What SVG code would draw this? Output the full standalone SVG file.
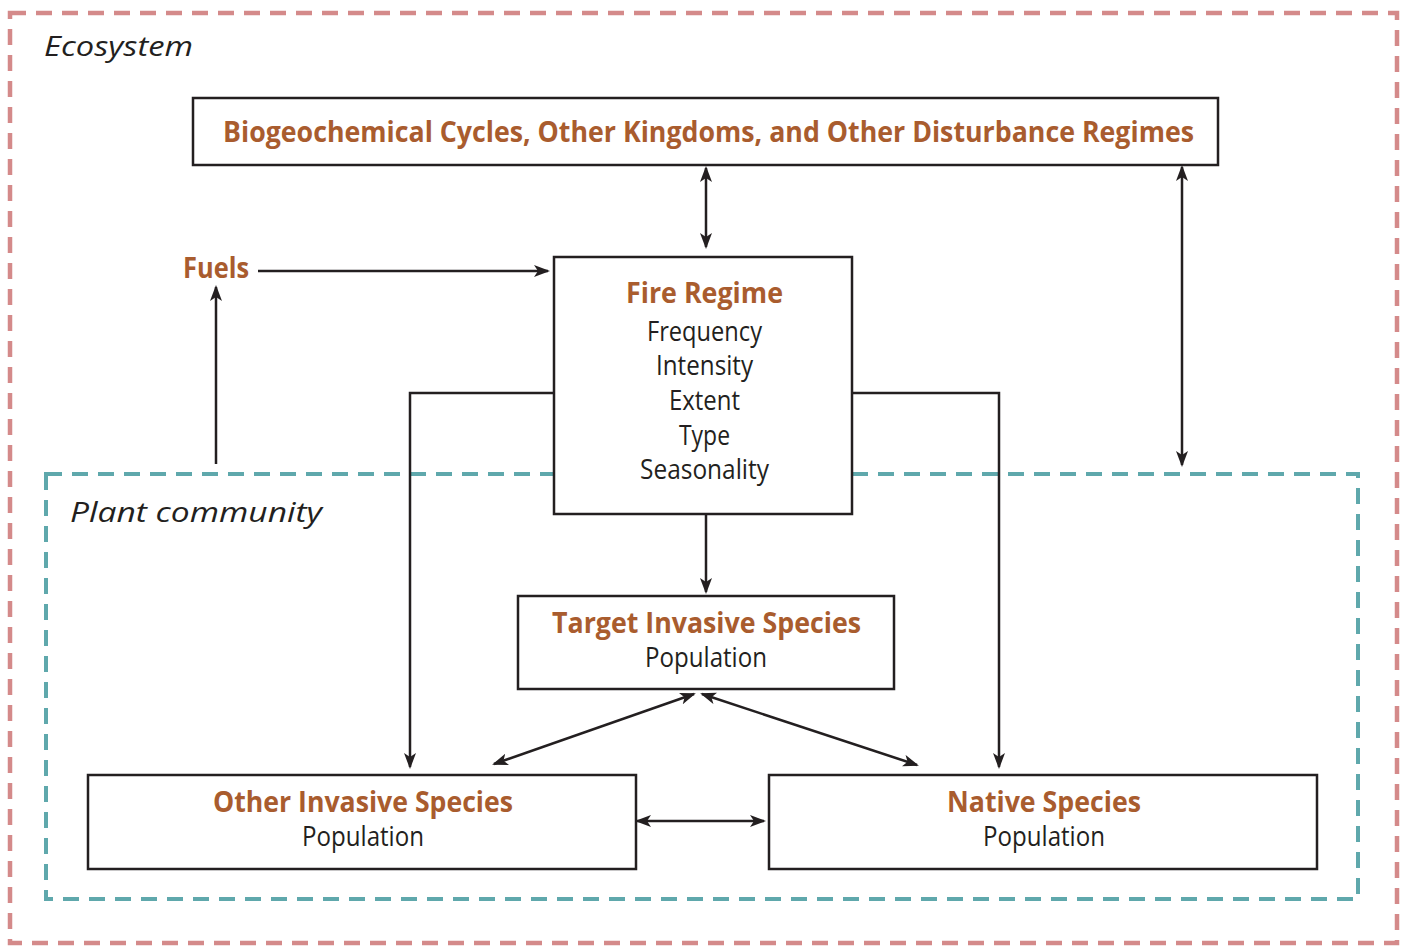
<svg xmlns="http://www.w3.org/2000/svg" width="1405" height="947" viewBox="0 0 1405 947">
<style>
.box{fill:#fff;stroke:#231f20;stroke-width:2.5}
.t{font-family:"Open Sans","Noto Sans",sans-serif;font-weight:700;fill:#a95c2e;font-size:29px;text-anchor:middle}
.r{font-family:"Open Sans","Noto Sans",sans-serif;font-weight:400;fill:#231f20;font-size:27px;text-anchor:middle}
.i{font-family:"Open Sans","Noto Sans",sans-serif;font-style:italic;fill:#231f20;font-size:28px}
.c{fill:none;stroke:#231f20;stroke-width:2.5}
</style>
<defs>
<marker id="ah" viewBox="0 0 16 12" refX="14" refY="6" markerWidth="16" markerHeight="12" markerUnits="userSpaceOnUse" orient="auto-start-reverse">
<path d="M0,0 L16,6 L0,12 L4,6 Z" fill="#231f20"/>
</marker>
</defs>
<rect width="1405" height="947" fill="#fff"/>
<g id="ecosystem">
<rect x="10" y="13" width="1387" height="930" fill="none" stroke="#d48a8a" stroke-width="4.5" stroke-dasharray="16 10"/>
<text class="i" x="44" y="56" textLength="149" lengthAdjust="spacingAndGlyphs">Ecosystem</text>
</g>
<g id="plant-community">
<rect x="46" y="474" width="1312" height="425" fill="none" stroke="#5fa8ac" stroke-width="4" stroke-dasharray="16 10"/>
<text class="i" x="70" y="522" textLength="252" lengthAdjust="spacingAndGlyphs">Plant community</text>
</g>
<g id="connectors">
<line class="c" x1="706" y1="168" x2="706" y2="247" marker-start="url(#ah)" marker-end="url(#ah)"/>
<line class="c" x1="1182" y1="167" x2="1182" y2="465" marker-start="url(#ah)" marker-end="url(#ah)"/>
<line class="c" x1="258" y1="271" x2="548" y2="271" marker-end="url(#ah)"/>
<line class="c" x1="216" y1="464" x2="216" y2="287" marker-end="url(#ah)"/>
<polyline class="c" points="554,393 410,393 410,767" marker-end="url(#ah)"/>
<polyline class="c" points="852,393 999,393 999,767" marker-end="url(#ah)"/>
<line class="c" x1="706" y1="514" x2="706" y2="592" marker-end="url(#ah)"/>
<line class="c" x1="694" y1="694" x2="494" y2="764" marker-start="url(#ah)" marker-end="url(#ah)"/>
<line class="c" x1="702" y1="694" x2="917" y2="765" marker-start="url(#ah)" marker-end="url(#ah)"/>
<line class="c" x1="637" y1="821" x2="764" y2="821" marker-start="url(#ah)" marker-end="url(#ah)"/>
</g>
<g id="biogeochemical">
<rect class="box" x="193" y="98" width="1025" height="67"/>
<text class="t" x="708.5" y="142" textLength="971" lengthAdjust="spacingAndGlyphs">Biogeochemical Cycles, Other Kingdoms, and Other Disturbance Regimes</text>
</g>
<g id="fuels">
<text class="t" x="216" y="278" textLength="66" lengthAdjust="spacingAndGlyphs">Fuels</text>
</g>
<g id="fire-regime">
<rect class="box" x="554" y="257" width="298" height="257"/>
<text class="t" x="704.5" y="303" textLength="157" lengthAdjust="spacingAndGlyphs">Fire Regime</text>
<text class="r" x="704.5" y="341" textLength="115" lengthAdjust="spacingAndGlyphs">Frequency</text>
<text class="r" x="704.5" y="375" textLength="97" lengthAdjust="spacingAndGlyphs">Intensity</text>
<text class="r" x="704.5" y="410" textLength="71" lengthAdjust="spacingAndGlyphs">Extent</text>
<text class="r" x="704.5" y="445" textLength="51" lengthAdjust="spacingAndGlyphs">Type</text>
<text class="r" x="704.5" y="479" textLength="129" lengthAdjust="spacingAndGlyphs">Seasonality</text>
</g>
<g id="target-invasive">
<rect class="box" x="518" y="596" width="376" height="93"/>
<text class="t" x="706.5" y="633" textLength="309" lengthAdjust="spacingAndGlyphs">Target Invasive Species</text>
<text class="r" x="706" y="667" textLength="122" lengthAdjust="spacingAndGlyphs">Population</text>
</g>
<g id="other-invasive">
<rect class="box" x="88" y="775" width="548" height="94"/>
<text class="t" x="363" y="812" textLength="300" lengthAdjust="spacingAndGlyphs">Other Invasive Species</text>
<text class="r" x="363" y="846" textLength="122" lengthAdjust="spacingAndGlyphs">Population</text>
</g>
<g id="native">
<rect class="box" x="769" y="775" width="548" height="94"/>
<text class="t" x="1044" y="812" textLength="194" lengthAdjust="spacingAndGlyphs">Native Species</text>
<text class="r" x="1044" y="846" textLength="122" lengthAdjust="spacingAndGlyphs">Population</text>
</g>
</svg>
